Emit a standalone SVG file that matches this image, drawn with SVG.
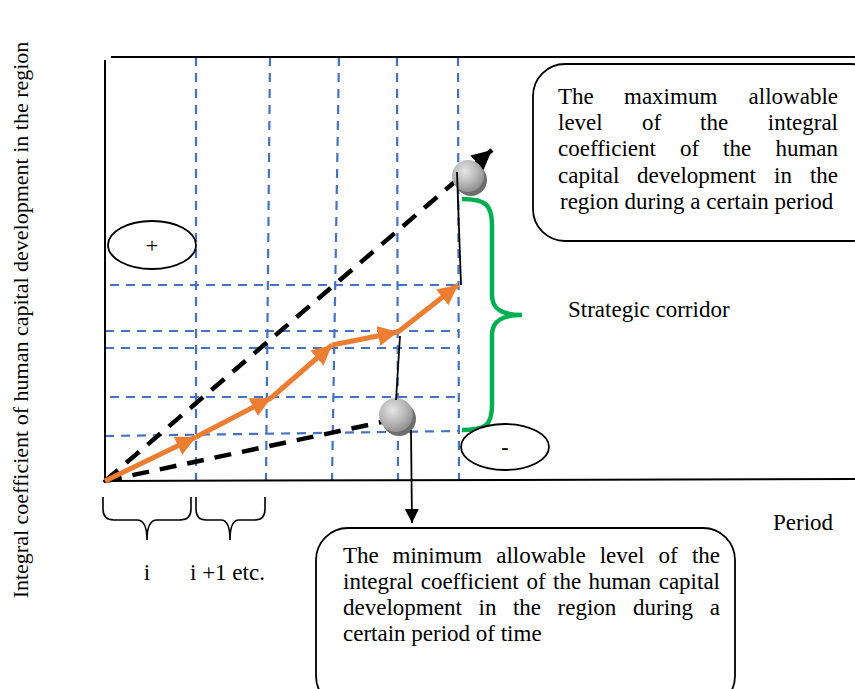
<svg xmlns="http://www.w3.org/2000/svg" width="855" height="689" viewBox="0 0 855 689">
<style>
.t{font-family:"Liberation Serif","Times New Roman",serif;font-size:23px;fill:#000}
.grid{stroke:#4472C4;stroke-width:2.2;stroke-dasharray:9,7;fill:none}
.frame{stroke:#000;stroke-width:2;fill:none}
.bd{stroke:#000;stroke-width:4.5;stroke-dasharray:17,11;fill:none}
.or{stroke:#ED7D31;stroke-width:5;fill:none;marker-end:url(#oa)}
.thin{stroke:#000;stroke-width:1.8;fill:none}
.box{fill:#fff;stroke:#000;stroke-width:1.8}
.ell{fill:#fff;stroke:#000;stroke-width:1.8}
</style>
<defs>
<marker id="oa" markerUnits="userSpaceOnUse" markerWidth="24" markerHeight="22" refX="20" refY="10" orient="auto">
<path d="M0,0 L20,10 L0,20 z" fill="#ED7D31"/>
</marker>
<marker id="ba" markerUnits="userSpaceOnUse" markerWidth="24" markerHeight="22" refX="20" refY="10" orient="auto">
<path d="M0,0 L20,10 L0,20 z" fill="#000"/>
</marker>
<marker id="ta" markerUnits="userSpaceOnUse" markerWidth="16" markerHeight="16" refX="14" refY="7" orient="auto">
<path d="M0,0 L14,7 L0,14 z" fill="#000"/>
</marker>
<radialGradient id="sg" cx="0.4" cy="0.35" r="0.7">
<stop offset="0" stop-color="#e6e6e6"/>
<stop offset="0.6" stop-color="#b3b3b3"/>
<stop offset="1" stop-color="#8a8a8a"/>
</radialGradient>
</defs>
<rect width="855" height="689" fill="#fff"/>

<g id="grid">
<line class="grid" x1="196" y1="57" x2="196" y2="481"/>
<line class="grid" x1="270" y1="57" x2="266" y2="481"/>
<line class="grid" x1="339" y1="57" x2="332" y2="481"/>
<line class="grid" x1="397" y1="57" x2="398" y2="481"/>
<line class="grid" x1="458" y1="57" x2="459" y2="481"/>
<line class="grid" x1="110" y1="285" x2="458" y2="285"/>
<line class="grid" x1="105" y1="331" x2="458" y2="331"/>
<line class="grid" x1="105" y1="348" x2="460" y2="348"/>
<line class="grid" x1="110" y1="397" x2="460" y2="397"/>
<line class="grid" x1="105" y1="436" x2="458" y2="431"/>
</g>

<g id="axes">
<line class="frame" x1="111" y1="57" x2="855" y2="57"/>
<line class="frame" x1="105" y1="60" x2="105" y2="483"/>
<line class="frame" x1="103" y1="481" x2="855" y2="479"/>
</g>

<g id="connectors">
<line class="bd" x1="105" y1="481" x2="492" y2="150" style="marker-end:url(#ba)"/>
<line class="bd" x1="105" y1="481" x2="382" y2="422"/>
<line class="or" x1="105" y1="481" x2="196" y2="437"/>
<line class="or" x1="196" y1="437" x2="271" y2="398"/>
<line class="or" x1="271" y1="398" x2="332" y2="345"/>
<line class="or" x1="332" y1="345" x2="398" y2="332"/>
<line class="or" x1="398" y1="332" x2="458" y2="285"/>
</g>

<g id="sphere-max">
<circle cx="471" cy="180" r="16" fill="#6e6e6e"/>
<circle cx="468" cy="176" r="16" fill="url(#sg)"/>
</g>
<g id="sphere-min">
<circle cx="399" cy="419" r="17" fill="#6e6e6e"/>
<circle cx="396" cy="415" r="17" fill="url(#sg)"/>
</g>

<g id="links">
<line class="thin" x1="457" y1="172" x2="461" y2="285"/>
<line class="thin" x1="400" y1="336" x2="396" y2="400"/>
<line class="thin" x1="411" y1="430" x2="412" y2="523" style="marker-end:url(#ta)"/>
</g>

<g id="corridor-brace">
<path d="M462,199 C486,199 492,205 492,225 L492,295 C492,308 500,315 522,315 C500,315 492,322 492,335 L492,405 C492,425 486,430 462,430" fill="none" stroke="#00B050" stroke-width="4.5"/>
</g>

<g id="period-braces">
<path d="M103,497 V509 Q103,520 114,520 H137 Q147,520 147,540 Q147,520 157,520 H180 Q191,520 191,509 V497" fill="none" stroke="#000" stroke-width="1.6"/>
<path d="M196,497 V509 Q196,520 206,520 H221 Q230,520 230,540 Q230,520 239,520 H255 Q265,520 265,509 V497" fill="none" stroke="#000" stroke-width="1.6"/>
</g>

<g id="plus-node">
<ellipse class="ell" cx="152" cy="245" rx="44" ry="24"/>
<text class="t" x="152" y="253" text-anchor="middle" style="font-size:22px">+</text>
</g>
<g id="minus-node">
<ellipse class="ell" cx="505" cy="447" rx="44" ry="23"/>
<text class="t" x="505" y="454" text-anchor="middle" style="font-size:22px;font-weight:bold">-</text>
</g>

<g id="max-box">
<rect class="box" x="533" y="64" width="350" height="177" rx="32"/>
<text class="t" y="104"><tspan x="558">The</tspan><tspan x="624">maximum</tspan><tspan x="838" text-anchor="end">allowable</tspan></text>
<text class="t" y="130"><tspan x="558">level</tspan><tspan x="642">of</tspan><tspan x="700">the</tspan><tspan x="838" text-anchor="end">integral</tspan></text>
<text class="t" y="156"><tspan x="558">coefficient</tspan><tspan x="680">of</tspan><tspan x="723">the</tspan><tspan x="838" text-anchor="end">human</tspan></text>
<text class="t" y="183"><tspan x="558">capital</tspan><tspan x="637">development</tspan><tspan x="774">in</tspan><tspan x="838" text-anchor="end">the</tspan></text>
<text class="t" y="209"><tspan x="560">region during a certain period</tspan></text>
</g>

<g id="min-box">
<rect class="box" x="316" y="528" width="419" height="180" rx="32"/>
<text class="t" y="563"><tspan x="343">The</tspan><tspan x="392.6">minimum</tspan><tspan x="496.2">allowable</tspan><tspan x="599.7">level</tspan><tspan x="658.5">of</tspan><tspan x="720" text-anchor="end">the</tspan></text>
<text class="t" y="589"><tspan x="343">integral</tspan><tspan x="420.7">coefficient</tspan><tspan x="526.6">of</tspan><tspan x="553">the</tspan><tspan x="588.4">human</tspan><tspan x="720" text-anchor="end">capital</tspan></text>
<text class="t" y="615"><tspan x="343">development</tspan><tspan x="478.5">in</tspan><tspan x="512.9">the</tspan><tspan x="557.6">region</tspan><tspan x="633">during</tspan><tspan x="720" text-anchor="end">a</tspan></text>
<text class="t" y="641"><tspan x="343">certain period of time</tspan></text>
</g>

<g id="labels">
<text class="t" x="568" y="317">Strategic corridor</text>
<text class="t" x="773" y="530">Period</text>
<text class="t" x="147" y="580" text-anchor="middle">i</text>
<text class="t" x="190" y="580">i +1 etc.</text>
<text class="t" transform="translate(28,320) rotate(-90)" text-anchor="middle" style="font-size:22px">Integral coefficient of human capital development in the region</text>
</g>
</svg>
